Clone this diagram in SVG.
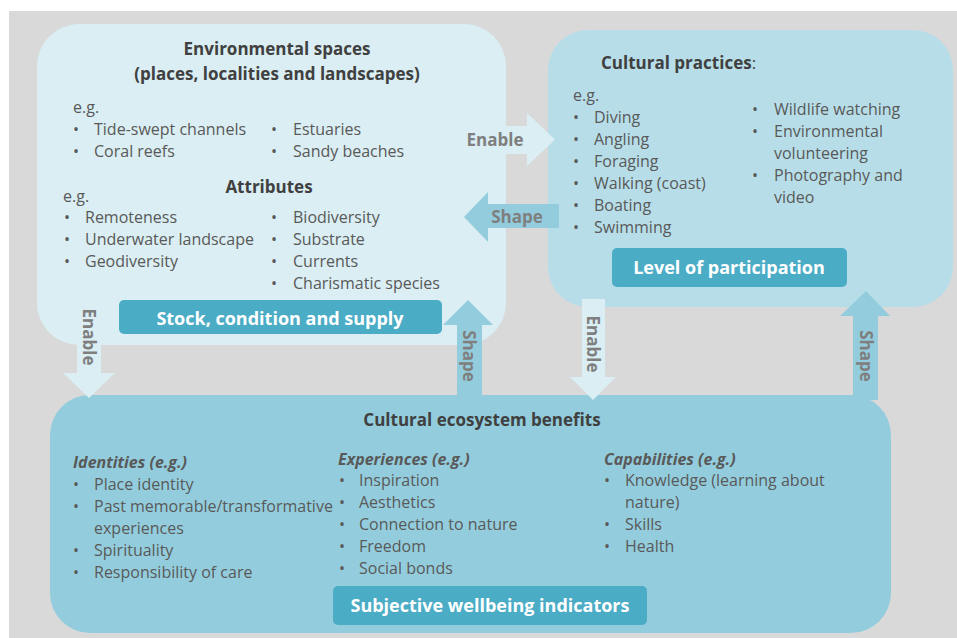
<svg xmlns="http://www.w3.org/2000/svg" width="957" height="638" viewBox="0 0 957 638">
<style>
text{font-family:"Open Sans","Liberation Sans",sans-serif;fill:#595959;font-size:16px}
.h{font-weight:bold;fill:#404040;font-size:17px}
.hi{font-weight:bold;font-style:italic;fill:#595959;font-size:16px}
.b{font-weight:bold;fill:#ffffff;font-size:18px;text-anchor:middle}
.al{font-weight:bold;fill:#7f7f7f;font-size:17px}
.light{fill:#daeef3}
.dark{fill:#93cddd}
.ban{fill:#4bacc6}
</style>
<rect x="9" y="11" width="948" height="627" fill="#d9d9d9"/>

<g id="environmental-spaces">
<rect x="37" y="24" width="469" height="321" rx="42" class="light"/>
<rect x="119" y="300" width="323" height="34" rx="5" class="ban"/>
<text class="h" x="277" y="55" text-anchor="middle">Environmental spaces</text>
<text class="h" x="277" y="80" text-anchor="middle">(places, localities and landscapes)</text>
<text x="73" y="113">e.g.</text>
<text x="73" y="135">•</text><text x="94" y="135">Tide-swept channels</text>
<text x="73" y="157">•</text><text x="94" y="157">Coral reefs</text>
<text x="271" y="135">•</text><text x="293" y="135">Estuaries</text>
<text x="271" y="157">•</text><text x="293" y="157">Sandy beaches</text>
<text class="h" x="269" y="193" text-anchor="middle" font-size="20">Attributes</text>
<text x="63" y="202">e.g.</text>
<text x="64" y="223">•</text><text x="85" y="223">Remoteness</text>
<text x="64" y="245">•</text><text x="85" y="245">Underwater landscape</text>
<text x="64" y="267">•</text><text x="85" y="267">Geodiversity</text>
<text x="271" y="223">•</text><text x="293" y="223">Biodiversity</text>
<text x="271" y="245">•</text><text x="293" y="245">Substrate</text>
<text x="271" y="267">•</text><text x="293" y="267">Currents</text>
<text x="271" y="289">•</text><text x="293" y="289">Charismatic species</text>
<text class="b" x="280" y="325">Stock, condition and supply</text>
</g>

<g id="cultural-practices">
<rect x="548" y="30" width="405" height="277" rx="40" fill="#b7dee8"/>
<rect x="612" y="248" width="235" height="39" rx="5" class="ban"/>
<text class="h" x="601" y="69">Cultural practices<tspan font-weight="normal">:</tspan></text>
<text x="573" y="101">e.g.</text>
<text x="573" y="123">•</text><text x="594" y="123">Diving</text>
<text x="573" y="145">•</text><text x="594" y="145">Angling</text>
<text x="573" y="167">•</text><text x="594" y="167">Foraging</text>
<text x="573" y="189">•</text><text x="594" y="189">Walking (coast)</text>
<text x="573" y="211">•</text><text x="594" y="211">Boating</text>
<text x="573" y="233">•</text><text x="594" y="233">Swimming</text>
<text x="752" y="115">•</text><text x="774" y="115">Wildlife watching</text>
<text x="752" y="137">•</text><text x="774" y="137">Environmental</text>
<text x="774" y="159">volunteering</text>
<text x="752" y="181">•</text><text x="774" y="181">Photography and</text>
<text x="774" y="203">video</text>
<text class="b" x="729" y="274">Level of participation</text>
</g>

<g id="cultural-ecosystem-benefits">
<rect x="50" y="395" width="841" height="238" rx="40" class="dark"/>
<rect x="333" y="586" width="314" height="39" rx="5" class="ban"/>
<text class="h" x="482" y="426" text-anchor="middle">Cultural ecosystem benefits</text>
<text class="hi" x="73" y="468">Identities (e.g.)</text>
<text x="73" y="490">•</text><text x="94" y="490">Place identity</text>
<text x="73" y="512">•</text><text x="94" y="512">Past memorable/transformative</text>
<text x="94" y="534">experiences</text>
<text x="73" y="556">•</text><text x="94" y="556">Spirituality</text>
<text x="73" y="578">•</text><text x="94" y="578">Responsibility of care</text>
<text class="hi" x="338" y="465">Experiences (e.g.)</text>
<text x="339" y="486">•</text><text x="359" y="486">Inspiration</text>
<text x="339" y="508">•</text><text x="359" y="508">Aesthetics</text>
<text x="339" y="530">•</text><text x="359" y="530">Connection to nature</text>
<text x="339" y="552">•</text><text x="359" y="552">Freedom</text>
<text x="339" y="574">•</text><text x="359" y="574">Social bonds</text>
<text class="hi" x="604" y="465">Capabilities (e.g.)</text>
<text x="604" y="486">•</text><text x="625" y="486">Knowledge (learning about</text>
<text x="625" y="508">nature)</text>
<text x="604" y="530">•</text><text x="625" y="530">Skills</text>
<text x="604" y="552">•</text><text x="625" y="552">Health</text>
<text class="b" x="490" y="612">Subjective wellbeing indicators</text>
</g>

<g id="connectors">
<polygon class="light" points="500,126 527,126 527,113 555,139.5 527,166 527,154 500,154"/>
<text class="al" x="495" y="146" text-anchor="middle">Enable</text>
<polygon class="dark" points="559,204 488,204 488,192 464,217 488,242 488,228 559,228"/>
<text class="al" x="517" y="223" text-anchor="middle">Shape</text>
<polygon class="light" points="77,335 101,335 101,373 115,373 89,398 63,373 77,373"/>
<text class="al" transform="translate(89,337) rotate(90)" text-anchor="middle" dy="6">Enable</text>
<polygon class="dark" points="457,396 457,325 443,325 468,300 493,325 482,325 482,396"/>
<text class="al" transform="translate(469,356) rotate(90)" text-anchor="middle" dy="6">Shape</text>
<polygon class="light" points="582,299 605,299 605,377 616,377 593,400 570,377 582,377"/>
<text class="al" transform="translate(593,344) rotate(90)" text-anchor="middle" dy="6">Enable</text>
<polygon class="dark" points="853,400 853,316 840,316 866,291 890,316 878,316 878,400"/>
<text class="al" transform="translate(866,356) rotate(90)" text-anchor="middle" dy="6">Shape</text>
</g>
</svg>
